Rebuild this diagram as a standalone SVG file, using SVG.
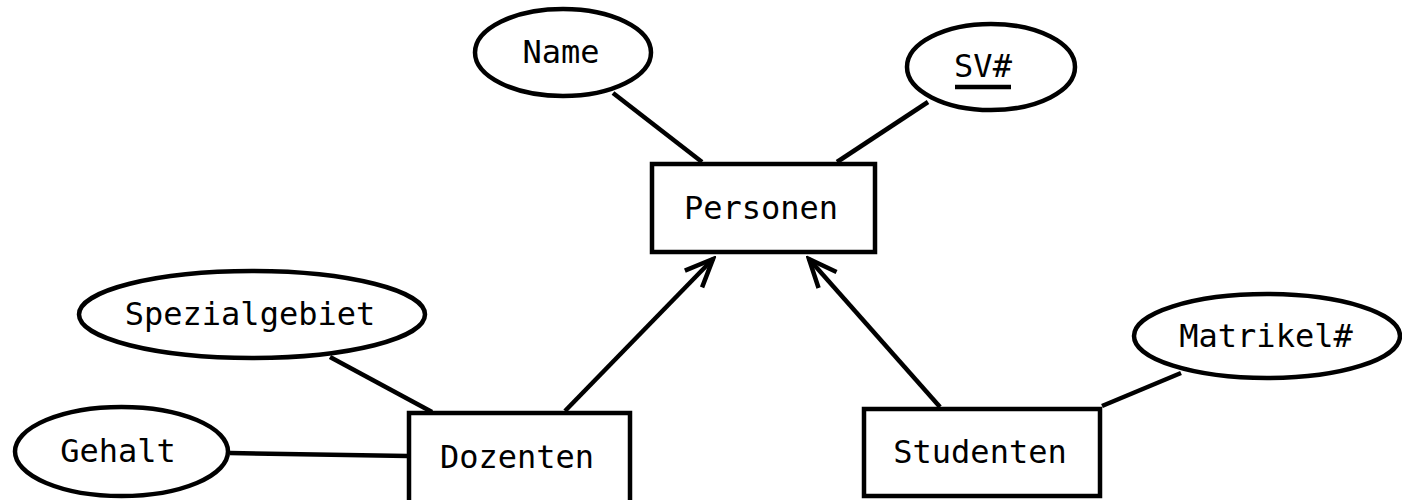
<svg xmlns="http://www.w3.org/2000/svg" width="1402" height="500" viewBox="0 0 1402 500">
<style>
  .shape { fill: #ffffff; stroke: #000000; stroke-width: 4.5; }
  .conn { fill: none; stroke: #000000; stroke-width: 4.5; }
  .lbl { font-family: "DejaVu Sans Mono", "Liberation Mono", monospace; font-size: 32px; fill: #000000; text-anchor: middle; }
</style>
<defs>
  <marker id="open" markerUnits="userSpaceOnUse" viewBox="-34 -16 38 32" refX="0" refY="0" markerWidth="38" markerHeight="32" orient="auto">
    <path d="M -28 -12 L 0 0 L -28 12" fill="none" stroke="#000000" stroke-width="4.5"/>
  </marker>
</defs>
<rect width="1402" height="500" fill="#ffffff"/>
<g id="connectors">
  <line class="conn" x1="613" y1="93" x2="702" y2="162"/>
  <line class="conn" x1="928" y1="102" x2="837" y2="162"/>
  <line class="conn" x1="330" y1="357" x2="432" y2="412"/>
  <line class="conn" x1="230" y1="453" x2="408" y2="456"/>
  <line class="conn" x1="1102" y1="406" x2="1181" y2="373"/>
  <line class="conn" x1="565" y1="411" x2="713" y2="259" marker-end="url(#open)"/>
  <line class="conn" x1="940" y1="407" x2="809" y2="259" marker-end="url(#open)"/>
</g>
<g id="name">
  <ellipse class="shape" cx="563" cy="52.5" rx="88" ry="43.5"/>
  <text class="lbl" x="561" y="63">Name</text>
</g>
<g id="svnr">
  <ellipse class="shape" cx="991" cy="67" rx="84" ry="43"/>
  <text class="lbl" x="983" y="77">SV#</text>
  <line x1="955" y1="87" x2="1011" y2="87" stroke="#000000" stroke-width="4.5"/>
</g>
<g id="personen">
  <rect class="shape" x="652" y="164" width="223" height="88"/>
  <text class="lbl" x="761" y="219">Personen</text>
</g>
<g id="spezialgebiet">
  <ellipse class="shape" cx="252" cy="314.5" rx="173" ry="43.5"/>
  <text class="lbl" x="250" y="325">Spezialgebiet</text>
</g>
<g id="gehalt">
  <ellipse class="shape" cx="121.5" cy="451.5" rx="106.5" ry="44.5"/>
  <text class="lbl" x="118" y="462">Gehalt</text>
</g>
<g id="dozenten">
  <rect class="shape" x="409" y="413" width="221" height="100"/>
  <text class="lbl" x="517" y="468">Dozenten</text>
</g>
<g id="studenten">
  <rect class="shape" x="864" y="409" width="236" height="87"/>
  <text class="lbl" x="980" y="463">Studenten</text>
</g>
<g id="matrikel">
  <ellipse class="shape" cx="1267" cy="336" rx="133" ry="42"/>
  <text class="lbl" x="1266" y="347">Matrikel#</text>
</g>
</svg>
